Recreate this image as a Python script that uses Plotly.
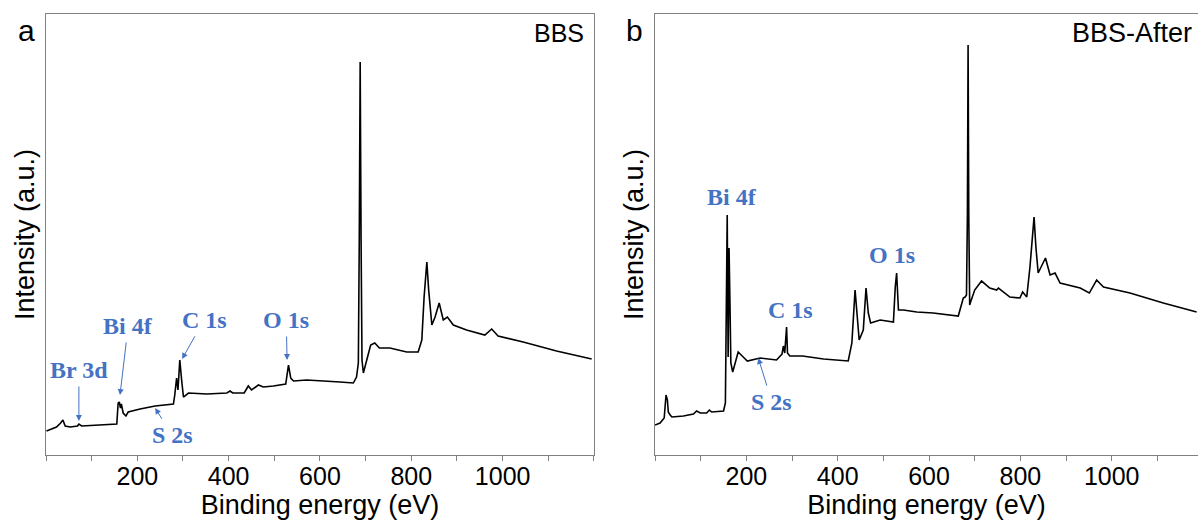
import plotly.graph_objects as go

# XPS survey, panel a (BBS): binding energy (eV) and intensity (a.u.)
bbs_energy = [1, 23, 32, 37, 42, 53, 69, 72, 78, 118, 155, 158, 160.5, 163, 165, 169, 175, 180,
              206, 239, 279, 282, 286, 289, 293, 297, 301, 312, 352, 396, 403, 409, 434, 443,
              450, 465, 476, 498, 525, 531, 536, 542, 571, 644, 673, 680, 684, 686, 688, 690,
              692, 695, 702, 711, 720, 730, 753, 790, 815, 823, 828, 834, 838, 845, 852, 861,
              870, 879, 892, 921, 961, 976, 990, 1045, 1118, 1195]
bbs_int = [24, 28, 32, 35, 29, 28, 29, 31, 29, 30, 31, 52, 53, 47, 51, 42, 39, 43,
           46, 49, 51, 60, 77, 65, 95, 75, 58, 62, 61, 62, 64, 62, 62, 69,
           65, 70, 68, 69, 71, 90, 77, 74, 75, 73, 72, 78, 92, 212, 393, 214,
           95, 82, 95, 110, 112, 107, 107, 103, 103, 115, 158, 193, 165, 130, 138, 152,
           135, 138, 130, 125, 120, 126, 119, 113, 104, 96]

# panel b (BBS-After)
after_energy = [0, 11, 20, 24, 27, 29, 33, 37, 62, 84, 91, 99, 113, 119, 124, 150, 154, 155,
                158, 160, 162, 164, 166, 170, 175, 182, 193, 202, 230, 266, 278, 281, 284,
                288, 290, 295, 323, 369, 423, 431, 438, 443, 447, 456, 462, 467, 472, 493,
                522, 526, 529, 533, 544, 573, 609, 664, 675, 679, 682, 684, 685.5, 687, 689,
                691, 700, 715, 733, 748, 752, 777, 799, 805, 814, 821, 830, 834, 839, 855,
                865, 876, 887, 931, 951, 967, 982, 1040, 1113, 1186]
after_int = [30, 32, 37, 60, 55, 43, 40, 38, 39, 41, 44, 42, 42, 45, 43, 44, 52, 92,
             240, 98, 207, 152, 92, 83, 92, 103, 98, 94, 97, 95, 101, 109, 102,
             128, 102, 99, 99, 96, 94, 112, 165, 135, 115, 125, 167, 142, 132, 135,
             133, 168, 182, 145, 145, 143, 142, 139, 157, 158, 160, 240, 410, 240, 150,
             153, 165, 174, 167, 165, 167, 158, 157, 163, 158, 188, 238, 208, 182, 197,
             180, 182, 172, 167, 162, 175, 168, 162, 152, 143]

major_ticks = [200, 400, 600, 800, 1000]
blue = "#4472C4"
grey = "#808080"

fig = go.Figure()
fig.add_trace(go.Scatter(x=bbs_energy, y=bbs_int, mode="lines",
                         line=dict(color="black", width=1.6), xaxis="x", yaxis="y"))
fig.add_trace(go.Scatter(x=after_energy, y=after_int, mode="lines",
                         line=dict(color="black", width=1.6), xaxis="x2", yaxis="y2"))

xax = dict(range=[0, 1200], tickvals=major_ticks, ticks="outside", ticklen=5, tickcolor=grey,
           minor=dict(ticks="outside", dtick=100, tick0=0, ticklen=5, tickcolor=grey),
           showline=True, linecolor=grey, linewidth=1, mirror=True, showgrid=False,
           zeroline=False, automargin=False, tickfont=dict(size=25, color="black"),
           ticklabelstandoff=-6,
           title=dict(text="Binding energy (eV)", font=dict(size=27, color="black"), standoff=0))
yax = dict(range=[0, 441], showticklabels=False, ticks="", showgrid=False, zeroline=False,
           showline=True, linecolor=grey, linewidth=1, automargin=False,
           title=dict(text="Intensity (a.u.)", font=dict(size=27, color="black"), standoff=2))

fig.update_layout(
    width=1198, height=525, margin=dict(l=0, r=0, t=0, b=0, autoexpand=False),
    paper_bgcolor="white", plot_bgcolor="white", showlegend=False,
    font=dict(family="Liberation Sans, Arial, sans-serif", color="black"),
    xaxis=dict(xax, domain=[0.0384, 0.4958], anchor="y"),
    yaxis=dict(yax, domain=[0.1333, 0.9733], anchor="x", mirror=True),
    xaxis2=dict(xax, domain=[0.5468, 1.0], anchor="y2", range=[0, 1189]),
    yaxis2=dict(yax, domain=[0.1333, 0.9733], anchor="x2", mirror=False),
)

lab = dict(font=dict(family="Liberation Serif, Times New Roman, serif", size=24, color=blue))
arrow = dict(showarrow=True, arrowhead=2, arrowsize=1.2, arrowwidth=1, arrowcolor=blue,
             axref="x", ayref="y", startstandoff=2)

# panel a labels (text at tail, arrow to the peak)
for txt, tx, ty, px, py in [("Br 3d", 72, 85, 72, 34), ("Bi 4f", 180, 129, 162, 60),
                            ("C 1s", 346, 135, 298, 96), ("O 1s", 526, 135, 528, 95),
                            ("S 2s", 276, 20, 239, 47)]:
    fig.add_annotation(x=px, y=py, ax=tx, ay=ty, xref="x", yref="y",
                       text="<b>%s</b>" % txt, **lab, **arrow)

# panel b labels
for txt, tx, ty in [("Bi 4f", 169, 258), ("C 1s", 296, 145), ("O 1s", 519, 200)]:
    fig.add_annotation(x=tx, y=ty, xref="x2", yref="y2", text="<b>%s</b>" % txt,
                       showarrow=False, **lab)
fig.add_annotation(x=226, y=97, ax=256, ay=53, xref="x2", yref="y2",
                   text="<b>S 2s</b>", **lab, **dict(arrow, axref="x2", ayref="y2"))

# panel letters and sample names
for txt, x, y, size, anchor in [("a", 26, 494, 30, "center"), ("b", 634, 494, 30, "center"),
                                ("BBS", 586, 492, 25, "right"), ("BBS-After", 1194, 492, 27, "right")]:
    fig.add_annotation(x=x / 1198, y=y / 525, xref="paper", yref="paper", text=txt,
                       showarrow=False, xanchor=anchor, yanchor="middle",
                       font=dict(size=size, color="black"))

# page body has an 8px default margin; drop it so the figure fills the window
fig.write_html("out.html", config={"displayModeBar": False},
               post_script="document.body.style.margin='0px';")
